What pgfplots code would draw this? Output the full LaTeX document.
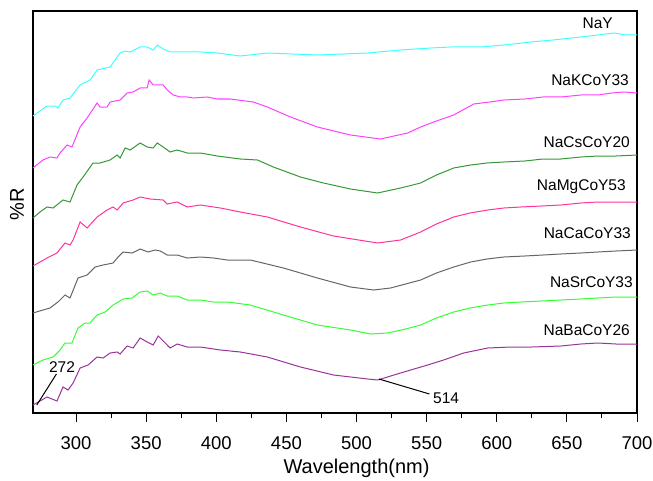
\documentclass[border=0pt]{standalone}
\usepackage{fontspec}
\setmainfont{Liberation Sans}
\usepackage{pgfplots}
\pgfplotsset{compat=1.18}

\definecolor{cNaY}{HTML}{40FFFF}
\definecolor{cK}{HTML}{FF40FF}
\definecolor{cCs}{HTML}{339933}
\definecolor{cMg}{HTML}{FF3399}
\definecolor{cCa}{HTML}{666666}
\definecolor{cSr}{HTML}{33FF33}
\definecolor{cBa}{HTML}{993399}

\begin{document}
\begin{tikzpicture}
\begin{axis}[name=ax,scale only axis,width=604pt,height=402pt,
 xmin=269.3,xmax=700,ymin=0,ymax=402,
 xtick={300,350,...,700},minor x tick num=1,ytick=\empty,
 xtick pos=bottom,tick align=outside,
 major tick length=9pt,minor tick length=5pt,
 axis line style={line width=1.2pt},
 every tick/.style={black,line width=1pt},
 /pgf/number format/assume math mode=true,
 /pgf/number format/1000 sep={},
 xticklabel style={font=\fontsize{18.5}{20}\selectfont,anchor=base,yshift=-27pt},
 xlabel={Wavelength(nm)},ylabel={\%R},
 xlabel style={font=\fontsize{20}{22}\selectfont,at={(axis description cs:0.5356,-0.151)},anchor=base},
 ylabel style={font=\fontsize{20}{22}\selectfont,at={(axis description cs:-0.0265,0.52)},anchor=center},
 every axis plot/.append style={line width=1pt,no markers}]
% NaY
\addplot[cNaY] coordinates {(269.3,297)(279.3,307)(285,307)(287.1,305)(290.7,313)(295.7,315)(302.9,328)(310,333)(315,343)(324.3,346)(331.4,360)(335,362)(338.6,361)(345.7,366)(350.7,366)(355,363)(357.9,368)(362.1,364)(367.1,361)(379.3,361)(388.6,361)(400.7,360)(417.1,357)(436.4,360)(472.1,358)(507.9,360)(531.4,363)(552.9,365)(567.1,366)(588.6,366)(605,368)(624.3,371)(640,373)(660,376)(672,378)(683.6,380)(692,378)(700,378)};
% NaKCoY33
\addplot[cK] coordinates {(269.3,245)(276.4,253)(281.4,256)(286.4,255)(288.6,260)(293.6,268)(297.1,266)(302.9,286)(307.9,295)(315,310)(317.1,306)(322.1,306)(324.3,311)(331.4,313)(336.4,320)(340.7,321)(345.7,325)(350.7,325)(352.1,333)(355,328)(362.1,328)(365,323)(369.3,318)(374.3,316)(379.3,316)(383.6,315)(393.6,316)(400.7,314)(410,314)(426.4,311)(436.4,306)(452.9,296)(472.1,286)(495.7,278)(517.1,274)(536.4,280)(545.7,286)(557,292)(569.3,298)(583.6,309)(595,311)(605,313)(620,314)(633,316)(645.7,316)(660,318)(672.1,318)(682,320)(690.7,321)(700,320)};
% NaCsCoY20
\addplot[cCs] coordinates {(269.3,195)(274.3,201)(279.3,206)(283.6,205)(290.7,213)(295.7,211)(300.7,228)(305,236)(312.1,250)(317.1,250)(324.3,253)(329.3,258)(331.4,255)(335,265)(338.6,263)(345.7,270)(350.7,266)(355,265)(357.9,270)(362.1,266)(367.1,261)(372.1,263)(379.3,260)(388.6,260)(400.7,257)(417.1,254)(429.3,253)(440.7,246)(460,236)(476.4,230)(495.7,224)(515,220)(531.4,225)(545.7,230)(557,238)(569.3,245)(581.4,248)(593,250)(605,251)(620,252)(633,254)(645.7,254)(660,256)(672.1,257)(685,257)(700,258)};
% NaMgCoY53
\addplot[cMg] coordinates {(269.3,147)(279.3,155)(286.4,160)(292.1,170)(295.7,168)(297.9,173)(302.9,191)(307.9,185)(315,196)(322.1,203)(326.4,206)(329.3,203)(333.6,210)(340.7,213)(345.7,216)(352.9,214)(362.1,213)(365,209)(372.1,211)(379.3,206)(388.6,208)(402.9,205)(417.1,201)(436.4,196)(460,186)(483.6,177)(515,170)(531.4,173)(545.7,181)(557,189)(569.3,196)(581,200)(593.6,203)(605,205)(617.1,206)(632,207)(645.7,208)(660,210)(672.1,211)(685,211)(700,211)};
% NaCaCoY33
\addplot[cCa] coordinates {(269.3,100)(276.4,103)(281.4,105)(287.1,111)(292.1,118)(295.7,115)(301.4,135)(307.9,138)(313.6,146)(319.3,148)(326.4,150)(330,156)(333.6,161)(340,160)(345.7,164)(351.4,161)(356.4,163)(360,162)(365,158)(372.1,158)(379.3,155)(388.6,156)(397.9,155)(407.9,153)(424.3,153)(447.9,145)(472.1,135)(495.7,126)(512.1,123)(524.3,125)(535,129)(545.7,133)(557,140)(569.3,146)(581.4,151)(593,154)(605,156)(620,157)(633,158)(645.7,159)(660,160)(672.1,161)(685,162)(700,163)};
% NaSrCoY33
\addplot[cSr] coordinates {(269.3,48)(276.4,53)(283.6,56)(288.6,63)(292.1,70)(297.1,70)(301.4,85)(306.4,90)(310,90)(315,98)(320.7,101)(326.4,108)(333.6,114)(340,115)(345.7,121)(350.7,122)(355,118)(360,120)(365,117)(372.1,117)(379.3,113)(388.6,113)(397.9,111)(407.9,111)(424.3,108)(447.9,98)(472.1,88)(495.7,83)(510,79)(522.1,80)(535,84)(545.7,88)(557,95)(569.3,101)(581,105)(593.6,108)(605,110)(617.1,111)(632,112)(645.7,113)(660,114)(672.1,115)(685,116)(700,116)};
% NaBaCoY26
\addplot[cBa] coordinates {(269.3,8)(274.3,12)(279.3,16)(286.4,12)(290.7,26)(294.3,23)(297.9,30)(302.9,45)(308.6,48)(315,56)(319.3,55)(324.3,60)(329.3,61)(331.4,59)(336.4,67)(340.7,65)(345.7,75)(350.7,71)(355,68)(358.6,77)(363.6,70)(367.1,65)(372.1,69)(379.3,66)(388.6,66)(402.9,63)(417.1,61)(436.4,56)(460,46)(483.6,38)(507.9,34)(515,33)(531.4,40)(550.7,48)(562.1,53)(576.4,60)(593.6,65)(610,66)(625,66)(645.7,67)(660,69)(672.1,70)(685,69)(700,69)};
% annotations
\draw[black,line width=1pt] (axis cs:272,8) -- (axis cs:286,39);
\node[font=\fontsize{15.5}{17}\selectfont,inner sep=0pt] at (axis cs:290,46) {272};
\draw[black,line width=1pt] (axis cs:516,34) -- (axis cs:552,19);
\node[font=\fontsize{15.5}{17}\selectfont,inner sep=0pt,anchor=west] at (axis cs:554.5,15) {514};
\begin{scope}[every node/.style={font=\fontsize{15.5}{17}\selectfont,inner sep=0pt,anchor=east}]
\node at (axis cs:682.9,390) {NaY};
\node at (axis cs:694.3,333) {NaKCoY33};
\node at (axis cs:695,271) {NaCsCoY20};
\node at (axis cs:692.1,226) {NaMgCoY53};
\node at (axis cs:695.7,180) {NaCaCoY33};
\node at (axis cs:697.1,131) {NaSrCoY33};
\node at (axis cs:695,83) {NaBaCoY26};
\end{scope}
\end{axis}
\pgfresetboundingbox
\path[use as bounding box] ([shift={(-33pt,-67pt)}]ax.south west) rectangle ([shift={(16pt,11pt)}]ax.north east);
\end{tikzpicture}
\end{document}
